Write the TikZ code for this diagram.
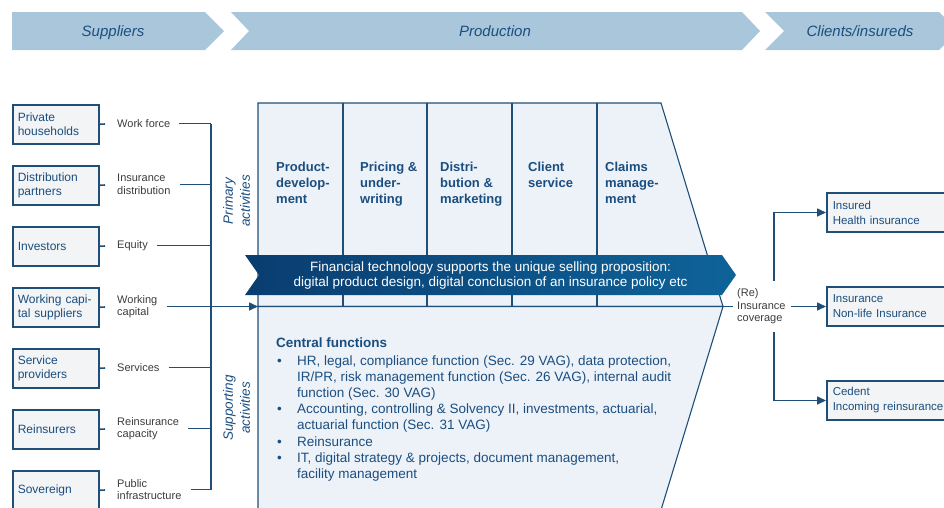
\documentclass[tikz,border=0pt]{standalone}
\usepackage{fontspec}
\setmainfont{Liberation Sans}
\usetikzlibrary{arrows.meta,calc}
\definecolor{dkblue}{HTML}{1F4E79}
\definecolor{txtblue}{HTML}{1B4E80}
\definecolor{bannerlight}{HTML}{A9C6DB}
\definecolor{prodfill}{HTML}{EDF2F8}
\definecolor{boxfill}{HTML}{F2F4F5}
\definecolor{fintechL}{HTML}{0A3D70}
\definecolor{fintechR}{HTML}{0E6399}
\definecolor{lblgray}{HTML}{3C3C3C}
\begin{document}
\begin{tikzpicture}[x=1pt,y=-1pt,
  line/.style={draw=dkblue, line width=1.6pt},
  arr/.style={line, -{Triangle[length=9pt,width=8pt]}},
  thinline/.style={draw=dkblue, line width=1.1pt},
  prodbox/.style={draw=dkblue, line width=1.1pt, fill=prodfill},
  bannertext/.style={text=txtblue, anchor=base, font=\itshape\fontsize{15}{18}\selectfont},
  supbox/.style={draw=dkblue, line width=1.5pt, fill=boxfill, text width=76pt, inner xsep=5pt, inner ysep=0pt, minimum height=39pt, align=left, text=txtblue, font=\fontsize{12}{14}\selectfont, anchor=north west},
  flowlabel/.style={inner sep=0pt, align=left, text=lblgray, font=\fontsize{11}{12.5}\selectfont, anchor=west},
  colhead/.style={anchor=north west, inner sep=0pt, align=left, text=txtblue, font=\bfseries\fontsize{13}{16}\selectfont},
  sidetext/.style={rotate=90, align=center, inner sep=0pt, text=txtblue, font=\itshape\fontsize{13.5}{17}\selectfont},
  clibox/.style={draw=dkblue, line width=1.5pt, fill=boxfill, text width=134pt, inner xsep=6pt, inner ysep=0pt, minimum height=39pt, align=left, text=txtblue, font=\fontsize{11.5}{15}\selectfont, anchor=west}
]
\useasboundingbox (0,0) rectangle (944,507);

% top banners
\fill[bannerlight] (12,12) -- (205,12) -- (224,31) -- (205,50) -- (12,50) -- cycle;
\fill[bannerlight] (231,12) -- (742,12) -- (760,31) -- (742,50) -- (231,50) -- (249,31) -- cycle;
\fill[bannerlight] (765,12) -- (939,12) -- (958,31) -- (939,50) -- (765,50) -- (784,31) -- cycle;
\node[bannertext] (hs) at (113,36.5) {Suppliers};
\node[bannertext] (hp) at (495,36.5) {Production};
\node[bannertext] (hc) at (860,36.5) {Clients/insureds};

% production shape
\coordinate (ptl) at (258,103);
\coordinate (ptr) at (661,103);
\coordinate (ptip) at (723,306.5);
\coordinate (pml) at (258,306.5);
\coordinate (pbr) at (661,510);
\coordinate (pbl) at (258,510);
\filldraw[prodbox] (ptl) -- (ptr) -- (ptip) -- (pml) -- cycle;
\filldraw[prodbox] (pml) -- (ptip) -- (pbr) -- (pbl) -- cycle;
\foreach \x in {343,427,512,597} \draw[thinline] (\x,103) -- (\x,306.5);

\node[colhead] (c1) at (276,162) {Product-\\develop-\\ment};
\node[colhead] (c2) at (360,162) {Pricing \&\\under-\\writing};
\node[colhead] (c3) at (440,162) {Distri-\\bution \&\\marketing};
\node[colhead] (c4) at (528,162) {Client\\service};
\node[colhead] (c5) at (605,162) {Claims\\manage-\\ment};

% fintech banner
\shade[left color=fintechL, right color=fintechR] (245,255) -- (722,255) -- (736,275) -- (722,295) -- (245,295) -- (259,275) -- cycle;
\node[text=white, align=center, inner sep=0pt, font=\fontsize{13.5}{15.5}\selectfont] (ft) at (490.5,275.5)
  {Financial technology supports the unique selling proposition:\\digital product design, digital conclusion of an insurance policy etc};

% central functions
\node[anchor=north west, inner sep=0pt, text=txtblue, font=\fontsize{13.5}{16.2}\selectfont] (cf) at (276,335.5) {%
\begin{tabular}{@{}l@{}l@{}}
\multicolumn{2}{@{}l@{}}{\bfseries Central functions}\\[1.8pt]
\makebox[21pt][l]{\hspace{1pt}\textbullet} & HR, legal, compliance function (Sec. 29 VAG), data protection,\\
 & IR/PR, risk management function (Sec. 26 VAG), internal audit\\
 & function (Sec. 30 VAG)\\
\makebox[21pt][l]{\hspace{1pt}\textbullet} & Accounting, controlling \& Solvency II, investments, actuarial,\\
 & actuarial function (Sec. 31 VAG)\\
\makebox[21pt][l]{\hspace{1pt}\textbullet} & Reinsurance\\
\makebox[21pt][l]{\hspace{1pt}\textbullet} & IT, digital strategy \& projects, document management,\\
 & facility management
\end{tabular}};

% side labels
\node[sidetext] (pa) at (236.5,201) {Primary\\activities};
\node[sidetext] (sa) at (236.5,408) {Supporting\\activities};

% suppliers
\coordinate (spt) at (211,123.5);
\coordinate (spb) at (211,489.5);
\draw[line] (spt) -- (spb);
\foreach \i/\y/\t/\l in {
  1/104/{Private\\households}/{Work force},
  2/165/{Distribution\\partners}/{Insurance\\distribution},
  3/226/{Investors}/{Equity},
  4/287/{Working capi-\\tal suppliers}/{Working\\capital},
  5/348/{Service\\providers}/{Services},
  6/409/{Reinsurers}/{Reinsurance\\capacity},
  7/470/{Sovereign}/{Public\\infrastructure}}{
  \node[supbox] (s\i) at (12,\y) {\t};
  \node[flowlabel] (l\i) at (117,\y+19.5) {\l};
  \draw[line, shorten >=12pt] (s\i.east) -- (l\i.west);
}
\foreach \i in {1,2,3,5,6,7}{
  \draw[line, shorten <=9pt] (l\i.east) -- (l\i.east -| spt);
}
\draw[arr, shorten <=9pt] (l4.east) -- (pml);

% clients
\node[clibox] (ins1) at (826,212.5) {Insured\\Health insurance};
\node[clibox] (ins2) at (826,306.5) {Insurance\\Non-life Insurance};
\node[clibox] (ins3) at (826,400.5) {Cedent\\Incoming reinsurance};
\node[flowlabel] (re) at (737,306.5) {(Re)\\Insurance\\coverage};
\draw[line, shorten >=4pt] (ptip) -- (re.west);
\draw[arr, shorten <=5pt] (re.east) -- (ins2.west);
\coordinate (vt) at (774,281);
\coordinate (vb) at (774,332);
\draw[arr] (vt) |- (ins1.west);
\draw[arr] (vb) |- (ins3.west);
\end{tikzpicture}
\end{document}
